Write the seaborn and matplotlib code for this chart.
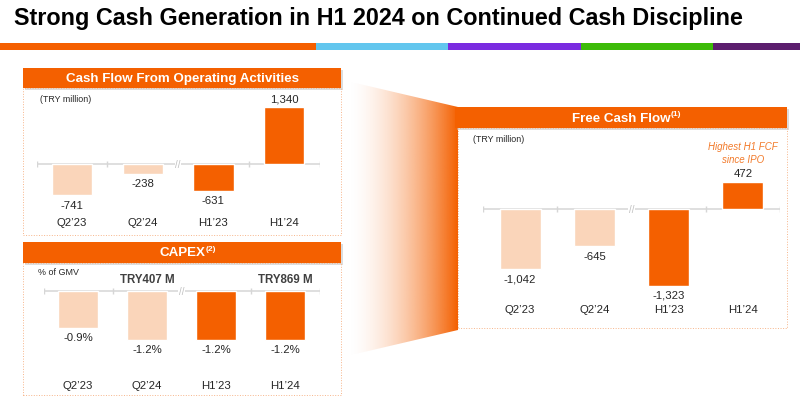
import numpy as np
import pandas as pd
import matplotlib
matplotlib.use("Agg")
import matplotlib.pyplot as plt
from matplotlib.patches import Rectangle, Polygon
import seaborn as sns

# ---- data ----
periods = ["Q2’23", "Q2’24", "H1’23", "H1’24"]
period_kind = ["quarter", "quarter", "half", "half"]
cfo_values = [-741, -238, -631, 1340]
capex_pct = [-0.9, -1.2, -1.2, -1.2]
capex_abs = ["", "TRY407 M", "", "TRY869 M"]
fcf_values = [-1042, -645, -1323, 472]

title = "Strong Cash Generation in H1 2024 on Continued Cash Discipline"
stripe_colors = ["#F55F00", "#62C6EE", "#7A2BE0", "#3DBB08", "#5C1E6E"]

ORANGE = "#F46000"
PEACH = "#FAD5BA"
TEXT = "#262626"
GRID = "#D6D6D6"
palette = {"quarter": PEACH, "half": ORANGE}

sns.set_style("white")
plt.rcParams["font.family"] = ["Liberation Sans", "DejaVu Sans"]

W, H = 800, 402
fig = plt.figure(figsize=(W / 100, H / 100), dpi=100)


def px_rect(x0, y0, x1, y1):
    # pixel box (top-left origin) -> figure fraction
    return [x0 / W, 1 - y1 / H, (x1 - x0) / W, (y1 - y0) / H]


def fig_rect(x0, y0, x1, y1, **kw):
    r = Rectangle((x0 / W, 1 - y1 / H), (x1 - x0) / W, (y1 - y0) / H,
                  transform=fig.transFigure, **kw)
    fig.add_artist(r)
    return r


def header(x0, y0, x1, y1, label, sup=None):
    fig_rect(x0 + 2, y0 + 2, x1 + 2, y1 + 2, color="#BDBDBD", alpha=0.5, lw=0)
    fig_rect(x0, y0, x1, y1, color=ORANGE, lw=0)
    t = fig.text((x0 + x1) / 2 / W, 1 - (y0 + y1) / 2 / H, label, color="white",
                 fontsize=9.6, fontweight="bold", ha="center", va="center")
    if sup:
        fig.canvas.draw()
        bb = t.get_window_extent(fig.canvas.get_renderer())
        fig.text(bb.x1 / W + 0.001, bb.y1 / H + 0.004, sup, color="white",
                 fontsize=6, fontweight="bold", ha="left", va="top")


def panel_box(x0, y0, x1, y1):
    fig_rect(x0, y0, x1, y1, fill=False, edgecolor="#F7B58A", lw=0.7, ls=":")


def bar_panel(rect, values, zero_px, scale, width, fmt):
    x0, y0, x1, y1 = rect
    ax = fig.add_axes(px_rect(*rect))
    df = pd.DataFrame({"period": periods, "value": values, "kind": period_kind})
    sns.barplot(data=df, x="period", y="value", hue="kind", palette=palette,
                dodge=False, width=width, saturation=1, legend=False, ax=ax)
    ax.set_xlim(-0.5, 3.5)
    ax.set_ylim(-(y1 - zero_px) / scale, (zero_px - y0) / scale)
    sns.despine(ax=ax, left=True, bottom=True)
    ax.set_yticks([])
    ax.set_xlabel("")
    ax.set_ylabel("")
    ax.tick_params(axis="x", length=0, pad=3, labelsize=8.2, labelcolor=TEXT)
    ax.patch.set_alpha(0)

    # zero line with small separators and a break mark
    ax.axhline(0, color=GRID, lw=1.1, zorder=0)
    tick = 3 / scale
    ax.vlines([-0.5, 0.5, 2.5, 3.5], -tick, tick, color=GRID, lw=1, zorder=0)
    ax.text(1.5, 0, "//", ha="center", va="center", fontsize=7, color="#BFBFBF",
            bbox=dict(facecolor="white", edgecolor="none", pad=0.3), zorder=1)

    bars = sorted([p for p in ax.patches if p.get_width() > 0], key=lambda p: p.get_x())
    for bar, v in zip(bars, values):
        xc = bar.get_x() + bar.get_width() / 2
        off = 2.5 if v >= 0 else -3
        ax.annotate(fmt(v), (xc, v), xytext=(0, off), textcoords="offset points",
                    ha="center", va="bottom" if v >= 0 else "top",
                    fontsize=8.2, color=TEXT)
    return ax


# ---- title and colour stripe ----
fig.text(14 / W, 1 - 19 / H, title, fontsize=16.8, fontweight="bold",
         color="#000000", ha="left", va="center")
edges = [0, 316, 448, 581, 713, 800]
for c, a, b in zip(stripe_colors, edges[:-1], edges[1:]):
    fig_rect(a, 44, b, 51, color=c, lw=0)

# ---- gradient funnel towards FCF panel ----
axf = fig.add_axes(px_rect(342, 78, 462, 362))
axf.set_xlim(342, 462)
axf.set_ylim(362, 78)
axf.axis("off")
t = np.linspace(0, 1, 256)
grad = np.zeros((2, 256, 4))
grad[..., :3] = matplotlib.colors.to_rgb(ORANGE)
grad[..., 3] = t ** 1.7
im = axf.imshow(grad, extent=(347, 458, 362, 78), aspect="auto")
clip = Polygon([(347, 82), (458, 108), (458, 331), (347, 357)], closed=True,
               transform=axf.transData)
im.set_clip_path(clip)

# ---- Cash flow from operating activities ----
header(23, 69, 341, 89, "Cash Flow From Operating Activities")
panel_box(23, 89, 341, 236)
fig.text(40 / W, 1 - 100 / H, "(TRY million)", fontsize=6.4, color=TEXT, va="center")
bar_panel((36.6, 100, 319.5, 214), cfo_values, 165, 0.0425, 0.57,
          lambda v: f"{v:,.0f}")

# ---- CAPEX ----
header(23, 243, 341, 264, "CAPEX", sup="(2)")
panel_box(23, 264, 341, 396)
fig.text(38 / W, 1 - 273 / H, "% of GMV", fontsize=6.4, color=TEXT, va="center")
ax_c = bar_panel((43.5, 272, 319.5, 377), capex_pct, 292, 41, 0.57,
                 lambda v: f"{v:.1f}%")
for i, lab in enumerate(capex_abs):
    if lab:
        ax_c.annotate(lab, (i, 0), xytext=(0, 4), textcoords="offset points",
                      ha="center", va="bottom", fontsize=8.3, fontweight="bold",
                      color="#404040")

# ---- Free cash flow ----
header(455, 108, 787, 129, "Free Cash Flow", sup="(1)")
panel_box(458, 129, 787, 329)
fig.text(473 / W, 1 - 140 / H, "(TRY million)", fontsize=6.4, color=TEXT, va="center")
ax_f = bar_panel((483, 135, 780, 301), fcf_values, 210, 0.058, 0.55,
                 lambda v: f"{v:,.0f}")
ax_f.annotate("Highest H1 FCF\nsince IPO", (3, fcf_values[3]), xytext=(0, 13),
              textcoords="offset points", ha="center", va="bottom",
              fontsize=7, fontstyle="italic", color="#F27A2A", linespacing=1.3)

fig.savefig("out.png", dpi=100)
